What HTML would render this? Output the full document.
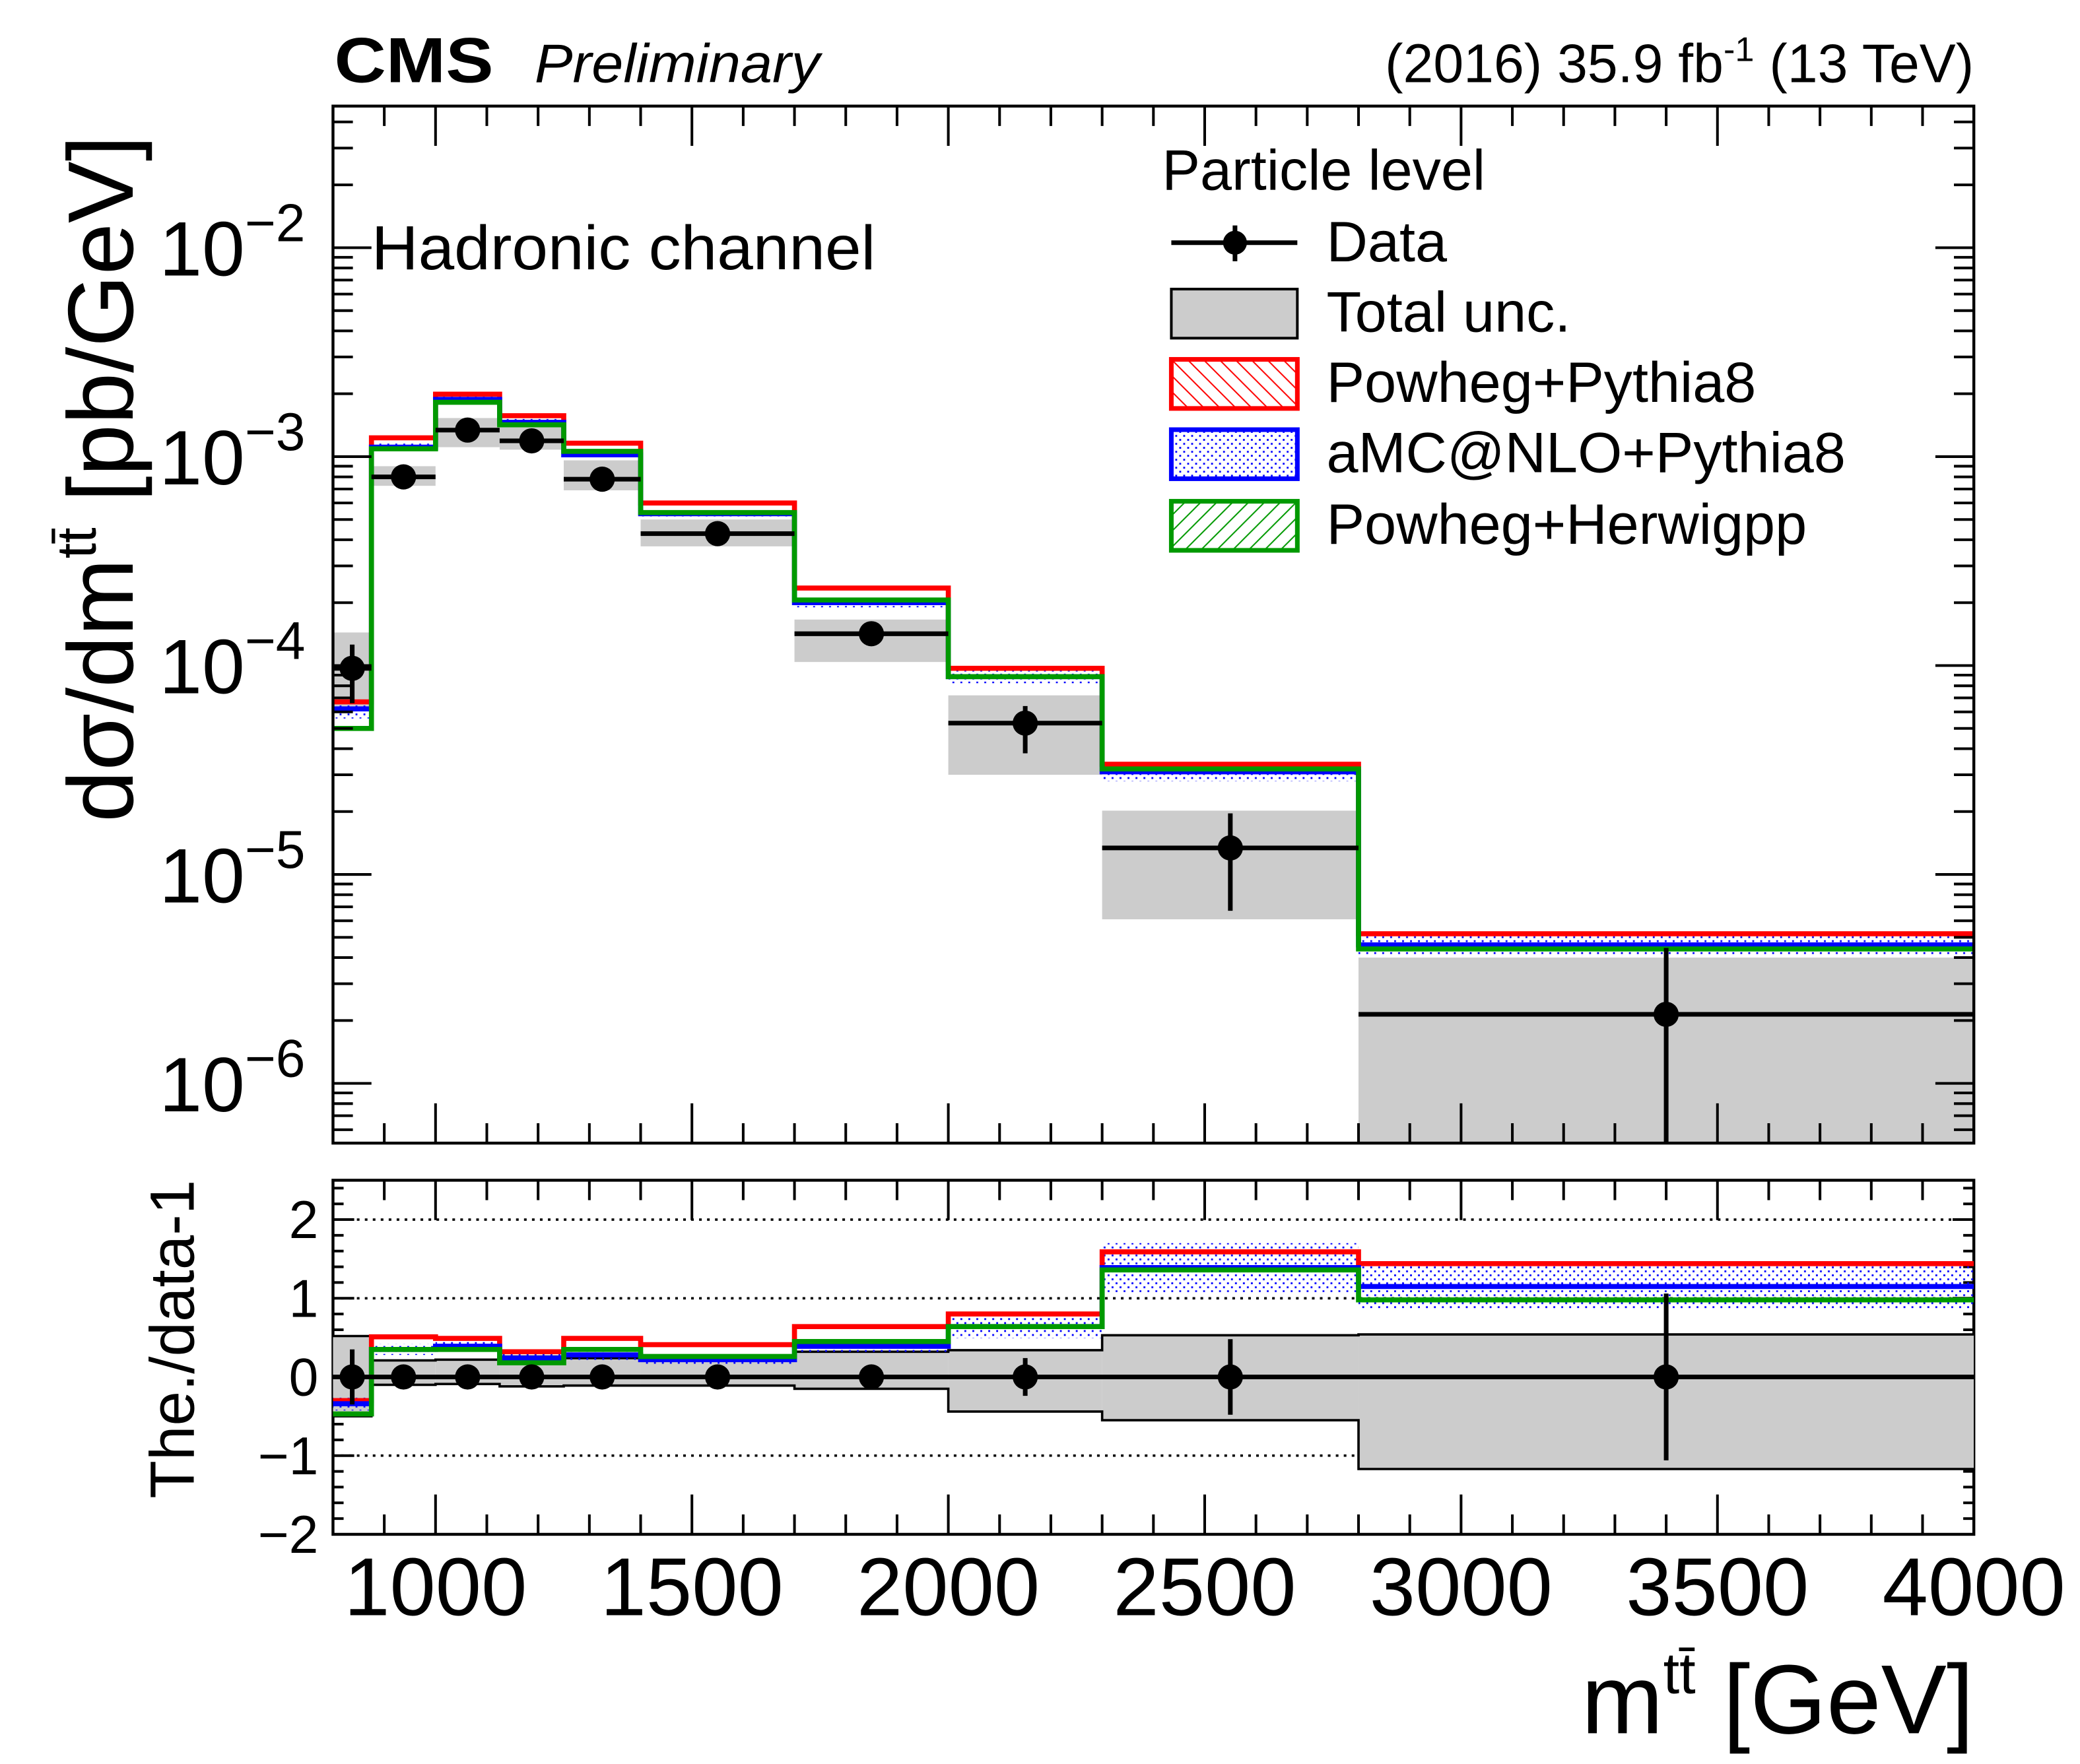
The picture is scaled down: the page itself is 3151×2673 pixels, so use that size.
<!DOCTYPE html>
<html><head><meta charset="utf-8"><style>
html,body{margin:0;padding:0;background:#fff;}
svg{display:block;font-family:"Liberation Sans",sans-serif;}
</style></head><body>
<svg id="chart" width="3151" height="2673" viewBox="0 0 1568 1330.2" xmlns="http://www.w3.org/2000/svg">
<defs>
<pattern id="hatchRed" width="12" height="12" patternUnits="userSpaceOnUse"><path d="M0,0 L12,12 M-6,6 L6,18 M6,-6 L18,6" stroke="#f00" stroke-width="1"/></pattern>
<pattern id="hatchGreen" width="12" height="12" patternUnits="userSpaceOnUse"><path d="M0,12 L12,0 M-6,6 L6,-6 M6,18 L18,6" stroke="#090" stroke-width="1"/></pattern>
<pattern id="dotsBlue" width="6" height="6" patternUnits="userSpaceOnUse"><rect x="1" y="1" width="1.4" height="1.4" fill="#00f"/><rect x="4" y="4" width="1.4" height="1.4" fill="#00f"/></pattern>
</defs>
<g id="main"></g>
<g id="ratio"></g>
<g id="labels">
<text x="252" y="62" font-size="48" font-weight="bold" textLength="120" lengthAdjust="spacingAndGlyphs">CMS</text>
<text x="403" y="62" font-size="41" font-style="italic" textLength="215" lengthAdjust="spacingAndGlyphs">Preliminary</text>
<text x="1488" y="62" font-size="41" text-anchor="end">(2016) 35.9 fb<tspan dy="-16" font-size="26">-1</tspan><tspan dy="16"> (13 TeV)</tspan></text>
<text x="280" y="203" font-size="47" textLength="380" lengthAdjust="spacingAndGlyphs">Hadronic channel</text>
<text transform="translate(100,620) rotate(-90)" font-size="70">dσ/dm<tspan dy="-28" font-size="42">tt̄</tspan><tspan dy="28"> [pb/GeV]</tspan></text>
<text transform="translate(146,1130) rotate(-90)" font-size="47">The./data-1</text>
<text x="1488" y="1307" font-size="74" text-anchor="end">m<tspan dy="-30" font-size="44">tt̄</tspan><tspan dy="30"> [GeV]</tspan></text>
</g>
<g id="legend">
<text x="876" y="143" font-size="43">Particle level</text>
<g>
<line x1="883" y1="183" x2="978" y2="183" stroke="#000" stroke-width="3.5"/>
<line x1="931" y1="170" x2="931" y2="197" stroke="#000" stroke-width="3.5"/>
<circle cx="931" cy="183" r="9" fill="#000"/>
<text x="1000" y="197" font-size="43">Data</text></g>
<g>
<rect x="883" y="218" width="95" height="37" fill="#ccc" stroke="#000" stroke-width="2"/>
<text x="1000" y="250" font-size="43">Total unc.</text></g>
<g>
<rect x="883" y="271" width="95" height="37" fill="url(#hatchRed)" stroke="#f00" stroke-width="3.5"/>
<text x="1000" y="303" font-size="43">Powheg+Pythia8</text></g>
<g>
<rect x="883" y="324" width="95" height="37" fill="url(#dotsBlue)" stroke="#00f" stroke-width="3.5"/>
<text x="1000" y="356" font-size="43">aMC@NLO+Pythia8</text></g>
<g>
<rect x="883" y="378" width="95" height="37" fill="url(#hatchGreen)" stroke="#090" stroke-width="3.5"/>
<text x="1000" y="410" font-size="43">Powheg+Herwigpp</text></g>
</g>
</svg>
<script>
// ---- data ----
const binEdges = [800, 875, 1000, 1125, 1250, 1400, 1700, 2000, 2300, 2800, 4000];
const dataValues = [9.7e-5, 8.0e-4, 1.34e-3, 1.19e-3, 7.8e-4, 4.28e-4, 1.42e-4, 5.3e-5, 1.34e-5, 2.14e-6];
const dataErrHi = [1.26e-4, 8.2e-4, 1.37e-3, 1.22e-3, 8.0e-4, 4.35e-4, 1.46e-4, 6.4e-5, 1.96e-5, 4.45e-6];
const dataErrLo = [6.6e-5, 7.8e-4, 1.31e-3, 1.16e-3, 7.6e-4, 4.2e-4, 1.38e-4, 3.8e-5, 6.7e-6, 1e-8];
const uncHi = [1.44e-4, 9.0e-4, 1.53e-3, 1.40e-3, 9.6e-4, 5.0e-4, 1.66e-4, 7.2e-5, 2.02e-5, 4.0e-6];
const uncLo = [6.17e-5, 7.25e-4, 1.11e-3, 1.08e-3, 6.9e-4, 3.72e-4, 1.04e-4, 3.0e-5, 6.1e-6, 1e-8];
const powhegPythia = [6.7e-5, 1.23e-3, 1.99e-3, 1.57e-3, 1.16e-3, 6.0e-4, 2.35e-4, 9.7e-5, 3.37e-5, 5.2e-6];
const amcPythia = [6.2e-5, 1.11e-3, 1.88e-3, 1.46e-3, 1.02e-3, 5.33e-4, 2.0e-4, 8.85e-5, 3.1e-5, 4.6e-6];
const powhegHerwig = [5.0e-5, 1.09e-3, 1.82e-3, 1.42e-3, 1.06e-3, 5.4e-4, 2.06e-4, 8.85e-5, 3.2e-5, 4.4e-6];
const amcRelUnc = [0.10, 0.04, 0.03, 0.04, 0.04, 0.04, 0.05, 0.07, 0.10, 0.10];
// ratio panel (theory/data - 1)
const ratioPowhegPythia = [-0.30, 0.51, 0.49, 0.32, 0.49, 0.41, 0.64, 0.80, 1.59, 1.44];
const ratioAmcPythia = [-0.34, 0.35, 0.39, 0.24, 0.28, 0.22, 0.39, 0.64, 1.39, 1.15];
const ratioPowhegHerwig = [-0.47, 0.35, 0.35, 0.18, 0.35, 0.26, 0.45, 0.64, 1.36, 0.98];
const ratioUncHi = [0.52, 0.21, 0.22, 0.26, 0.24, 0.21, 0.32, 0.34, 0.53, 0.54];
const ratioUncLo = [-0.50, -0.10, -0.09, -0.12, -0.11, -0.11, -0.15, -0.44, -0.55, -1.17];
const ratioDataErr = [0.35, 0.02, 0.02, 0.02, 0.02, 0.02, 0.03, 0.24, 0.48, 1.06];
const xTickLabels = ["1000", "1500", "2000", "2500", "3000", "3500", "4000"];
const yDecadeLabels = ["−2", "−3", "−4", "−5", "−6"];
const ratioTickLabels = ["2", "1", "0", "−1", "−2"];

// ---- axes ----
const L = 251, R = 1488, T = 80, B = 862, RT = 890, RB = 1157;
const XMIN = 800, XMAX = 4000;
const LOGMIN = -6.286, LOGMAX = -1.322;
const RMIN = -2, RMAX = 2.5;
const xs = v => L + (v - XMIN) / (XMAX - XMIN) * (R - L);
const ys = v => { let l = Math.log10(Math.max(v, 1e-12)); l = Math.max(LOGMIN - 0.05, Math.min(LOGMAX, l)); return B - (l - LOGMIN) / (LOGMAX - LOGMIN) * (B - T); };
const yr = v => RB - (v - RMIN) / (RMAX - RMIN) * (RB - RT);
const NS = "http://www.w3.org/2000/svg";
function mk(tag, attrs, parent) { const e = document.createElementNS(NS, tag); for (const k in attrs) e.setAttribute(k, attrs[k]); parent.appendChild(e); return e; }
const gMain = document.getElementById("main");
const gRatio = document.getElementById("ratio");

function clipFor(id, y0, y1) {
  const defs = document.querySelector("defs");
  const cp = mk("clipPath", { id: id }, defs);
  mk("rect", { x: L, y: y0, width: R - L, height: y1 - y0 }, cp);
}
clipFor("clipMain", T, B);
clipFor("clipRatio", RT, RB);
const mainPlot = mk("g", { "clip-path": "url(#clipMain)" }, gMain);
const ratioPlot = mk("g", { "clip-path": "url(#clipRatio)" }, gRatio);

function stepPath(vals, yf) {
  let d = "";
  vals.forEach((v, i) => { const x0 = xs(binEdges[i]), x1 = xs(binEdges[i + 1]), y = yf(v); d += (i === 0 ? "M" : "L") + x0 + "," + y + " L" + x1 + "," + y + " "; });
  return d;
}

// ---- main panel ----
dataValues.forEach((v, i) => {
  const x0 = xs(binEdges[i]), x1 = xs(binEdges[i + 1]);
  const r = mk("rect", { x: x0, y: ys(uncHi[i]), width: x1 - x0, height: ys(uncLo[i]) - ys(uncHi[i]), fill: "#ccc" }, mainPlot);
  
  
});
amcPythia.forEach((v, i) => {
  const x0 = xs(binEdges[i]), x1 = xs(binEdges[i + 1]);
  const b = mk("rect", { x: x0, y: ys(v * (1 + amcRelUnc[i])), width: x1 - x0, height: ys(v * (1 - amcRelUnc[i])) - ys(v * (1 + amcRelUnc[i])), fill: "url(#dotsBlue)" }, mainPlot);
  
  
});
[[powhegPythia, "#f00", "powheg-pythia8-line"], [amcPythia, "#00f", "amcatnlo-pythia8-line"], [powhegHerwig, "#090", "powheg-herwigpp-line"]].forEach(([vals, col, name]) => {
  const p = mk("path", { d: stepPath(vals, ys), fill: "none", stroke: col, "stroke-width": 3.8 }, mainPlot);
  
  
});
dataValues.forEach((v, i) => {
  const x0 = xs(binEdges[i]), x1 = xs(binEdges[i + 1]), xc = (x0 + x1) / 2, y = ys(v);
  const g = mk("g", {}, mainPlot);
  
  
  mk("line", { x1: x0, x2: x1, y1: y, y2: y, stroke: "#000", "stroke-width": 3.5 }, g);
  mk("line", { x1: xc, x2: xc, y1: ys(dataErrHi[i]), y2: ys(dataErrLo[i]), stroke: "#000", "stroke-width": 3.5 }, g);
  mk("circle", { cx: xc, cy: y, r: 9.5, fill: "#000" }, g);
});

// ---- ratio panel ----
[2, 1, -1].forEach(v => {
  const l = mk("line", { x1: L, x2: R, y1: yr(v), y2: yr(v), stroke: "#000", "stroke-width": 1.8, "stroke-dasharray": "2,4" }, ratioPlot);
  
  
});
ratioUncHi.forEach((v, i) => {
  const x0 = xs(binEdges[i]), x1 = xs(binEdges[i + 1]);
  const r = mk("rect", { x: x0, y: yr(v), width: x1 - x0, height: yr(ratioUncLo[i]) - yr(v), fill: "#ccc" }, ratioPlot);
  
  
});
const outlineHi = mk("path", { d: stepPath(ratioUncHi, yr), fill: "none", stroke: "#000", "stroke-width": 1.8 }, ratioPlot);


const outlineLo = mk("path", { d: stepPath(ratioUncLo, yr), fill: "none", stroke: "#000", "stroke-width": 1.8 }, ratioPlot);


ratioAmcPythia.forEach((v, i) => {
  const x0 = xs(binEdges[i]), x1 = xs(binEdges[i + 1]);
  const d = (1 + v) * amcRelUnc[i] * 1.3;
  const b = mk("rect", { x: x0, y: yr(v + d), width: x1 - x0, height: yr(v - d) - yr(v + d), fill: "url(#dotsBlue)" }, ratioPlot);
  
  
});
[[ratioPowhegPythia, "#f00", "ratio-powheg-pythia8-line"], [ratioAmcPythia, "#00f", "ratio-amcatnlo-pythia8-line"], [ratioPowhegHerwig, "#090", "ratio-powheg-herwigpp-line"]].forEach(([vals, col, name]) => {
  const p = mk("path", { d: stepPath(vals, yr), fill: "none", stroke: col, "stroke-width": 3.8 }, ratioPlot);
  
  
});
const zl = mk("line", { x1: L, x2: R, y1: yr(0), y2: yr(0), stroke: "#000", "stroke-width": 3.5 }, ratioPlot);


ratioDataErr.forEach((e, i) => {
  const xc = (xs(binEdges[i]) + xs(binEdges[i + 1])) / 2;
  const g = mk("g", {}, ratioPlot);
  
  
  mk("line", { x1: xc, x2: xc, y1: yr(e), y2: yr(-e), stroke: "#000", "stroke-width": 3.5 }, g);
  mk("circle", { cx: xc, cy: yr(0), r: 9.5, fill: "#000" }, g);
});

// ---- frames & ticks ----
function frame(y0, y1, name) {
  const f = mk("rect", { x: L, y: y0, width: R - L, height: y1 - y0, fill: "none", stroke: "#000", "stroke-width": 2.2 }, gMain);
  
  
}
frame(T, B, "main-frame");
frame(RT, RB, "ratio-frame");
const ticks = mk("g", { stroke: "#000", "stroke-width": 2 }, gMain);


for (let v = 900; v <= 3900; v += 100) {
  const x = xs(v), len = (v % 500 === 0) ? 30 : 15;
  [[T, 1], [B, -1], [RT, 1], [RB, -1]].forEach(([y, s]) => mk("line", { x1: x, x2: x, y1: y, y2: y + s * len }, ticks));
}
for (let dec = -7; dec <= -1; dec++) {
  for (let m = 1; m <= 9; m++) {
    const v = m * Math.pow(10, dec); const l = Math.log10(v);
    if (l < LOGMIN || l > LOGMAX) continue;
    const y = ys(v), len = m === 1 ? 29 : 15;
    mk("line", { x1: L, x2: L + len, y1: y, y2: y }, ticks);
    mk("line", { x1: R, x2: R - len, y1: y, y2: y }, ticks);
  }
}
for (let k = 0; k <= 22; k++) {
  const v = -2 + k * 0.2; const y = yr(v);
  const len = Math.abs(v - Math.round(v)) < 1e-6 ? 16 : 8;
  mk("line", { x1: L, x2: L + len, y1: y, y2: y }, ticks);
  mk("line", { x1: R, x2: R - len, y1: y, y2: y }, ticks);
}
const tl = mk("g", {}, gMain);
xTickLabels.forEach((t, i) => {
  const tx = mk("text", { x: xs(1000 + 500 * i), y: 1218, "font-size": 62, "text-anchor": "middle" }, tl);
  tx.textContent = t;
  
  
});
yDecadeLabels.forEach((t, i) => {
  const y = ys(Math.pow(10, -2 - i));
  const tx = mk("text", { x: 120, y: y + 21, "font-size": 58 }, tl);
  tx.textContent = "10";
  const sp = mk("tspan", { dy: -26, "font-size": 40 }, tx);
  sp.textContent = t;
  
  
});
ratioTickLabels.forEach((t, i) => {
  const tx = mk("text", { x: 240, y: yr(2 - i) + 14, "font-size": 40, "text-anchor": "end" }, tl);
  tx.textContent = t;
  
  
});
</script>
</body></html>
